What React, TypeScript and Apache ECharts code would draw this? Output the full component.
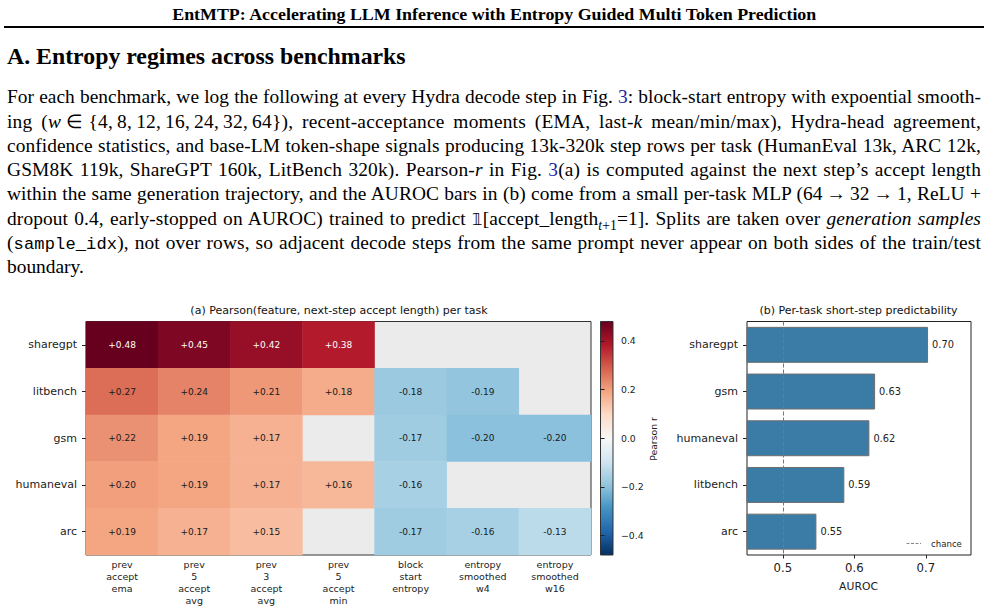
import React, { useEffect, useLayoutEffect, useRef } from "react";
import * as echarts from "echarts";

// ---------- data ----------
const features = [
  "prev\naccept\nema",
  "prev\n5\naccept\navg",
  "prev\n3\naccept\navg",
  "prev\n5\naccept\nmin",
  "block\nstart\nentropy",
  "entropy\nsmoothed\nw4",
  "entropy\nsmoothed\nw16",
];
const tasks = ["sharegpt", "litbench", "gsm", "humaneval", "arc"];
const rSharegpt = [0.48, 0.45, 0.42, 0.38, null, null, null];
const rLitbench = [0.27, 0.24, 0.21, 0.18, -0.18, -0.19, null];
const rGsm = [0.22, 0.19, 0.17, null, -0.17, -0.2, -0.2];
const rHumaneval = [0.2, 0.19, 0.17, 0.16, -0.16, null, null];
const rArc = [0.19, 0.17, 0.15, null, -0.17, -0.16, -0.13];
const pearsonRows = [rSharegpt, rLitbench, rGsm, rHumaneval, rArc];
const colorbarTicks = [-0.4, -0.2, 0, 0.2, 0.4];

const barTasks = ["sharegpt", "gsm", "humaneval", "litbench", "arc"];
const auroc = [0.703, 0.629, 0.621, 0.586, 0.547];
const aurocTicks = [0.5, 0.6, 0.7];
const chance = 0.5;

const RdBu_r = [
  "#053061", "#2166ac", "#4393c3", "#92c5de", "#d1e5f0", "#f7f7f7",
  "#fddbc7", "#f4a582", "#d6604d", "#b2182b", "#67001f",
];

const SANS = '"DejaVu Sans", sans-serif';
const SERIF = '"Liberation Serif", "Times New Roman", serif';
const LINK = "#1f1fa8";

function Chart() {
  const ref = useRef<HTMLDivElement>(null);
  useEffect(() => {
    const chart = echarts.init(ref.current!, null, { renderer: "svg" });
    const heatData: any[] = [];
    pearsonRows.forEach((row, yi) =>
      row.forEach((v, xi) => {
        if (v === null) return;
        heatData.push({
          value: [xi, yi, v],
          label: { color: Math.abs(v) > 0.3 ? "#ffffff" : "#1a1a1a" },
        });
      })
    );
    const cbStops = RdBu_r.slice()
      .reverse()
      .map((c, i) => ({ offset: i / (RdBu_r.length - 1), color: c }));

    const option: any = {
      animation: false,
      textStyle: { fontFamily: SANS },
      grid: [
        { left: 86, top: 321.5, width: 505, height: 233.5, show: true, backgroundColor: "#ebebeb", borderColor: "#333", borderWidth: 1 },
        { left: 600.5, top: 321.5, width: 12.5, height: 233.5, show: true, borderColor: "#333", borderWidth: 1, backgroundColor: new echarts.graphic.LinearGradient(0, 0, 0, 1, cbStops) },
        { left: 747, top: 321.5, width: 224, height: 233.5, show: true, borderColor: "#222", borderWidth: 1, backgroundColor: "transparent" },
      ],
      xAxis: [
        {
          gridIndex: 0, type: "category", data: features,
          axisLine: { show: false }, axisTick: { show: false }, splitLine: { show: false },
          axisLabel: { interval: 0, fontSize: 9.5, lineHeight: 12, color: "#222", margin: 3 },
        },
        { gridIndex: 1, type: "value", show: false, min: 0, max: 1 },
        {
          gridIndex: 2, type: "value", min: 0.45, max: 0.763,
          axisLine: { show: false }, splitLine: { show: false },
          axisTick: { show: true, length: 3.5, customValues: aurocTicks, lineStyle: { color: "#222" } },
          axisLabel: { customValues: aurocTicks, fontSize: 11.7, color: "#222", margin: 7, formatter: (v: number) => v.toFixed(1) },
        },
      ],
      yAxis: [
        {
          gridIndex: 0, type: "category", data: tasks, inverse: true,
          axisLine: { show: false }, splitLine: { show: false },
          axisTick: { show: true, length: 4, alignWithLabel: true, lineStyle: { color: "#222" } },
          axisLabel: { fontSize: 11, color: "#222", margin: 9 },
        },
        {
          gridIndex: 1, type: "value", position: "right", min: -0.48, max: 0.48,
          axisLine: { show: false }, splitLine: { show: false },
          axisTick: { show: true, length: 4, customValues: colorbarTicks, lineStyle: { color: "#222" } },
          axisLabel: {
            customValues: colorbarTicks, fontSize: 9.3, color: "#222", margin: 8,
            formatter: (v: number) => (v < 0 ? "\u2212" + Math.abs(v).toFixed(1) : v.toFixed(1)),
          },
        },
        {
          gridIndex: 2, type: "category", data: barTasks, inverse: true,
          axisLine: { show: false }, splitLine: { show: false },
          axisTick: { show: true, length: 4, alignWithLabel: true, lineStyle: { color: "#222" } },
          axisLabel: { fontSize: 11, color: "#222", margin: 9 },
        },
      ],
      visualMap: {
        show: false, type: "continuous", min: -0.48, max: 0.48,
        seriesIndex: 0, dimension: 2, inRange: { color: RdBu_r },
      },
      series: [
        {
          type: "heatmap", xAxisIndex: 0, yAxisIndex: 0, data: heatData,
          label: {
            show: true, fontSize: 9, fontFamily: SANS,
            formatter: (p: any) => {
              const v = p.value[2];
              return (v > 0 ? "+" : "") + v.toFixed(2);
            },
          },
        },
        { type: "scatter", xAxisIndex: 1, yAxisIndex: 1, data: [] },
        {
          type: "bar", xAxisIndex: 2, yAxisIndex: 2, data: auroc,
          barCategoryGap: "23%",
          itemStyle: { color: "#3a7ca5", borderColor: "#6e6e6e", borderWidth: 1 },
          label: {
            show: true, position: "right", distance: 4, fontSize: 9.8, color: "#222",
            formatter: (p: any) => p.value.toFixed(2),
          },
          markLine: {
            silent: true, symbol: "none", label: { show: false },
            lineStyle: { color: "#777", type: [4, 2], width: 1 },
            data: [{ xAxis: chance }],
          },
        },
      ],
      graphic: [
        { type: "text", x: 339, y: 310.5, style: { text: "(a) Pearson(feature, next-step accept length) per task", align: "center", verticalAlign: "middle", fontSize: 11, fontFamily: SANS, fill: "#111" } },
        { type: "text", x: 858.5, y: 310.5, style: { text: "(b) Per-task short-step predictability", align: "center", verticalAlign: "middle", fontSize: 11, fontFamily: SANS, fill: "#111" } },
        { type: "text", x: 653, y: 439, rotation: Math.PI / 2, style: { text: "Pearson r", align: "center", verticalAlign: "middle", fontSize: 9.3, fontFamily: SANS, fill: "#222" } },
        { type: "text", x: 858.5, y: 586, style: { text: "AUROC", align: "center", verticalAlign: "middle", fontSize: 10.8, fontFamily: SANS, fill: "#222" } },
        { type: "line", shape: { x1: 906.5, y1: 543.5, x2: 921, y2: 543.5 }, style: { stroke: "#888", lineWidth: 1, lineDash: [3, 1.5] } },
        { type: "text", x: 931, y: 543.5, style: { text: "chance", align: "left", verticalAlign: "middle", fontSize: 8.6, fontFamily: SANS, fill: "#222" } },
      ],
    };
    chart.setOption(option);
    return () => chart.dispose();
  }, []);
  return <div ref={ref} style={{ position: "absolute", left: 0, top: 0, width: 988, height: 613 }} />;
}

const L = (t: string) => <span style={{ color: LINK }}>{t}</span>;
const MS = "\u2005"; // math spacing (not stretched)

const paraLines: React.ReactNode[] = [
  <>For each benchmark, we log the following at every Hydra decode step in Fig. {L("3")}: block-start entropy with expoential smooth-</>,
  <>ing (<i>w</i>{MS + "∈" + MS}{"{4,\u20098,\u200912,\u200916,\u200924,\u200932,\u200964}"}), recent-acceptance moments (EMA, last-<i>k</i> mean/min/max), Hydra-head agreement,</>,
  <>confidence statistics, and base-LM token-shape signals producing 13k-320k step rows per task (HumanEval 13k, ARC 12k,</>,
  <>GSM8K 119k, ShareGPT 160k, LitBench 320k). Pearson-<i>r</i> in Fig. {L("3")}(a) is computed against the next step’s accept length</>,
  <>within the same generation trajectory, and the AUROC bars in (b) come from a small per-task MLP (64{"\u2009→\u2009"}32{"\u2009→\u2009"}1, ReLU +</>,
  <>dropout 0.4, early-stopped on AUROC) trained to predict <span style={{ fontFamily: '"DejaVu Sans", serif', fontSize: "0.85em" }}>𝟙</span>[accept_length<sub style={{ fontSize: "0.7em", lineHeight: 0 }}><i>t</i>+1</sub>=1]. Splits are taken over <i>generation samples</i></>,
  <>(<span style={{ fontFamily: '"Liberation Mono", monospace', fontSize: "0.88em" }}>sample_idx</span>), not over rows, so adjacent decode steps from the same prompt never appear on both sides of the train/test</>,
  <>boundary.</>,
];

export default function App() {
  const lineRefs = useRef<(HTMLSpanElement | null)[]>([]);
  const headRef = useRef<HTMLSpanElement | null>(null);
  useLayoutEffect(() => {
    document.body.style.margin = "0";
    const fit = () => {
      lineRefs.current.forEach((el, i) => {
        if (!el || i === paraLines.length - 1) return;
        el.style.wordSpacing = "0px";
        el.style.letterSpacing = "0px";
        const text = el.textContent || "";
        let w = el.getBoundingClientRect().width;
        const slack = 974 - w;
        if (slack > 0) {
          const ls = Math.min((slack * 0.45) / text.length, 0.35);
          el.style.letterSpacing = ls + "px";
          w = el.getBoundingClientRect().width;
        }
        const spaces = text.split(" ").length - 1;
        if (spaces > 0) el.style.wordSpacing = (974 - w) / spaces + "px";
      });
      const h = headRef.current;
      if (h) {
        h.style.transform = "none";
        const hw = h.getBoundingClientRect().width;
        h.style.transform = `scaleX(${644 / hw})`;
      }
    };
    fit();
    (document as any).fonts?.ready?.then(fit);
  }, []);

  return (
    <div style={{ position: "fixed", left: 0, top: 0, width: 988, height: 613, background: "#fff", overflow: "hidden" }}>
      <Chart />
      <div style={{ position: "absolute", left: 0, top: 6, width: 988, textAlign: "center", fontFamily: SERIF, fontWeight: "bold", fontSize: 17, lineHeight: "17px", color: "#000" }}>
        <span ref={headRef} style={{ display: "inline-block", whiteSpace: "nowrap", transformOrigin: "50% 50%" }}>
          EntMTP: Accelerating LLM Inference with Entropy Guided Multi Token Prediction
        </span>
      </div>
      <div style={{ position: "absolute", left: 4, top: 26, width: 980, height: 1.5, background: "#000" }} />
      <div style={{ position: "absolute", left: 7, top: 45, fontFamily: SERIF, fontWeight: "bold", fontSize: 23.8, lineHeight: "23.8px", color: "#000", whiteSpace: "nowrap" }}>
        A. Entropy regimes across benchmarks
      </div>
      {paraLines.map((content, i) => (
        <div key={i} style={{ position: "absolute", left: 7, top: 85.3 + i * 24.29, fontFamily: SERIF, fontSize: 19.4, lineHeight: "24px", color: "#000", whiteSpace: "nowrap" }}>
          <span ref={(el) => { lineRefs.current[i] = el; }} style={{ display: "inline-block" }}>{content}</span>
        </div>
      ))}
    </div>
  );
}
